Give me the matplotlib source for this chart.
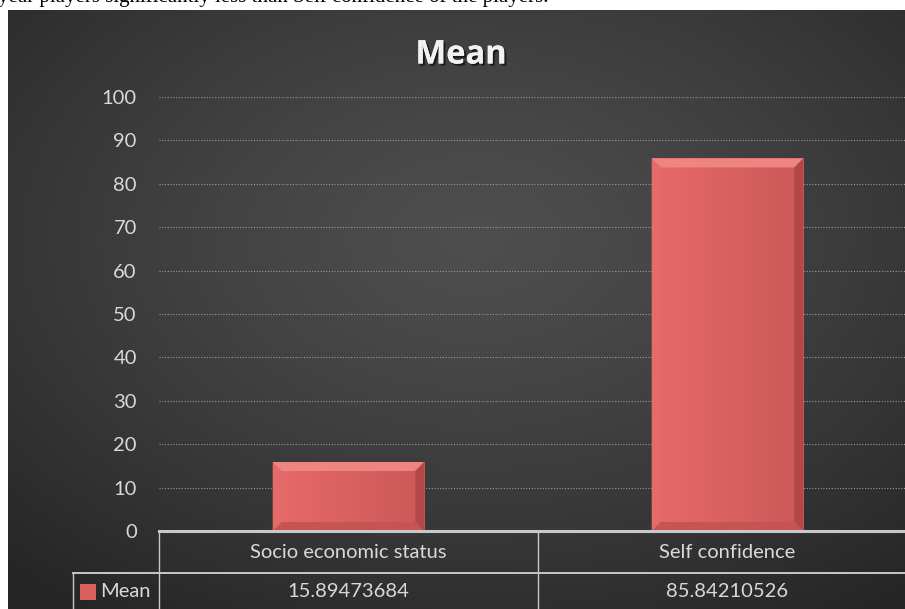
import numpy as np
import matplotlib
matplotlib.use("Agg")
import matplotlib.pyplot as plt
from matplotlib.patches import Polygon, Rectangle
from matplotlib.lines import Line2D
import matplotlib.patheffects as pe

categories = ["Socio economic status", "Self confidence"]
means = [15.89473684, 85.84210526]
value_labels = ["15.89473684", "85.84210526"]
series_name = "Mean"
yticks = [0, 10, 20, 30, 40, 50, 60, 70, 80, 90, 100]
chart_title = "Mean"
caption_above = "year players significantly less than Self confidence of the players."

W, H = 905, 609
fig = plt.figure(figsize=(W / 100, H / 100), dpi=100)
fig.patch.set_facecolor("white")

FONT = ["Lato", "DejaVu Sans"]
TXT = "#d9d9d9"
FS = 14.5

# cut-off sentence from the page above the chart (only its lower edge shows)
fig.text(-2 / W, 1 - 1.8 / H, caption_above, family=["Liberation Serif"], fontsize=15,
         color="black", va="baseline", ha="left")

# dark panel with radial gradient
px0, py0 = 8, 10
bg = fig.add_axes([px0 / W, 0, 1 - px0 / W, 1 - py0 / H])
bg.set_axis_off()
gh, gw = 300, 450
yy, xx = np.mgrid[0:gh, 0:gw]
cx, cy = 0.52 * gw, 0.38 * gh
r = np.sqrt(((xx - cx) / gw) ** 2 + ((yy - cy) / gh) ** 2)
r = np.clip(r / 0.75, 0, 1)
c_in, c_out = 0.305, 0.15
val = c_in + (c_out - c_in) * r ** 1.3
img = np.dstack([val, val, val])
bg.imshow(img, aspect="auto", extent=[0, 1, 0, 1], interpolation="bilinear")
bg.set_xlim(0, 1)
bg.set_ylim(0, 1)

# main axes
left, right = 159, 917
ytop, ybot = 97, 531
ax = fig.add_axes([left / W, (H - ybot) / H, (right - left) / W, (ybot - ytop) / H])
ax.patch.set_alpha(0)
x = np.arange(len(categories))
ax.set_xlim(-0.5, len(categories) - 0.5)
ax.set_ylim(0, 100)
for s in ax.spines.values():
    s.set_visible(False)
ax.set_xticks([])
ax.set_yticks(yticks)
ax.set_yticklabels([str(t) for t in yticks], fontsize=FS, color=TXT, family=FONT)
ax.tick_params(axis="y", length=0, pad=16)
for t in yticks[1:]:
    ax.axhline(t, color="#9a9a9a", lw=0.8, ls=(0, (1, 1.5)), zorder=1)

bw = 0.4
bars = ax.bar(x, means, width=bw, color="#d95f5f", zorder=3, edgecolor="none")

# bevel + face gradient
fig.canvas.draw()
px_per_x = ax.transData.transform((1, 0))[0] - ax.transData.transform((0, 0))[0]
px_per_y = ax.transData.transform((0, 1))[1] - ax.transData.transform((0, 0))[1]
bx = 9 / px_per_x
by = 9 / px_per_y
c0 = np.array([0xe6, 0x6a, 0x69]) / 255
c1 = np.array([0xcc, 0x58, 0x58]) / 255
grad = np.linspace(0, 1, 64)[None, :, None]
face = c0[None, None, :] * (1 - grad) + c1[None, None, :] * grad
for b in bars:
    x0, x1 = b.get_x(), b.get_x() + b.get_width()
    y0, y1 = 0, b.get_height()
    ax.imshow(face, extent=[x0, x1, y0, y1], aspect="auto", zorder=3.5,
              interpolation="bilinear")
    # top
    ax.add_patch(Polygon([(x0, y1), (x1, y1), (x1 - bx, y1 - by), (x0 + bx, y1 - by)],
                         closed=True, color="#ee8583", zorder=4, lw=0))
    # left
    ax.add_patch(Polygon([(x0, y1), (x0 + bx, y1 - by), (x0 + bx, y0 + by), (x0, y0)],
                         closed=True, color="#e46b6a", zorder=4, lw=0))
    # right
    ax.add_patch(Polygon([(x1, y1), (x1 - bx, y1 - by), (x1 - bx, y0 + by), (x1, y0)],
                         closed=True, color="#b34848", zorder=4, lw=0))
    # bottom
    ax.add_patch(Polygon([(x0, y0), (x0 + bx, y0 + by), (x1 - bx, y0 + by), (x1, y0)],
                         closed=True, color="#c65454", zorder=4, lw=0))
ax.set_xlim(-0.5, len(categories) - 0.5)
ax.set_ylim(0, 100)

# data table
row_h = 42 / (ybot - ytop)
tx = ax.get_xaxis_transform()
edges = np.arange(len(categories) + 1) - 0.5
key_left = edges[0] - (left - 73) / px_per_x
LC = "#c8c8c8"
ax.add_line(Line2D([edges[0], edges[-1]], [0, 0], transform=tx, color=LC, lw=2.2,
                   clip_on=False, zorder=5))
ax.add_line(Line2D([key_left, edges[-1]], [-row_h, -row_h], transform=tx, color=LC, lw=1.4,
                   clip_on=False, zorder=5))
for e in edges[:-1]:
    ax.add_line(Line2D([e, e], [0, -0.3], transform=tx, color=LC, lw=1.0,
                       clip_on=False, zorder=5))
ax.add_line(Line2D([key_left, key_left], [-row_h, -0.3], transform=tx, color=LC, lw=1.0,
                   clip_on=False, zorder=5))
for xi, cat, v in zip(x, categories, value_labels):
    ax.text(xi, -row_h / 2, cat, transform=tx, ha="center", va="center",
            fontsize=FS, color=TXT, family=FONT)
    ax.text(xi, -row_h * 1.45, v, transform=tx, ha="center", va="center",
            fontsize=FS, color=TXT, family=FONT)
# legend key
kx = key_left + 7 / px_per_x
ax.add_patch(Rectangle((kx, -row_h * 1.45 - 8 / (ybot - ytop)), 16 / px_per_x, 16 / (ybot - ytop),
                       transform=tx, color="#d95f5f", clip_on=False, zorder=6, lw=0))
ax.text(kx + 20 / px_per_x, -row_h * 1.45, series_name, transform=tx, ha="left", va="center",
        fontsize=FS, color=TXT, family=FONT)

# title
fig.text(461 / W, 1 - 55 / H, chart_title, ha="center", va="center", fontsize=23.5,
         fontweight="bold", color="#f2f2f2", family=["Open Sans", "DejaVu Sans"],
         path_effects=[pe.withSimplePatchShadow(offset=(1.5, -1.5), alpha=0.6, shadow_rgbFace="black"),
                       pe.Normal()])

fig.savefig("out.png", dpi=100, facecolor=fig.get_facecolor())
